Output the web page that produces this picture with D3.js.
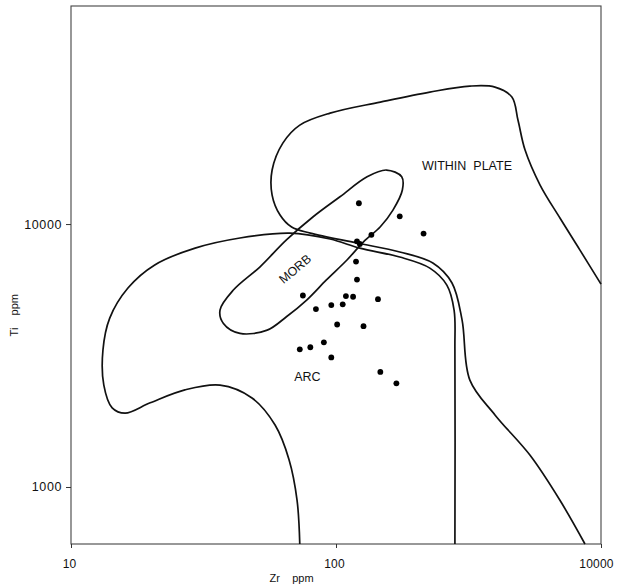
<!DOCTYPE html>
<html>
<head>
<meta charset="utf-8">
<script src="https://cdn.jsdelivr.net/npm/d3@7"></script>
<style>
  body { margin: 0; background: #fff; }
  svg text { font-family: "Liberation Sans", Arial, sans-serif; fill: #111; }
  .field { fill: none; stroke: #111; stroke-width: 1.7; }
</style>
</head>
<body>
<div id="ti_zr_graphic"></div>
<script>
//Global Variables
var full_width = 617
var full_height = 584
var margin = {top: 6, right: 16, bottom: 40, left: 71};
var width = full_width - margin.left - margin.right;
var height = full_height - margin.top - margin.bottom;

// axis ticks (the original figure prints 10000 on the 1000 tick)
var xTickValues = [10, 100, 1000];
var xTickLabels = ["10", "100", "10000"];
var yTickValues = [1000, 10000];
var yTickLabels = ["1000", "10000"];

// samples, Zr and Ti in ppm
var sampleZr = [122, 174, 214, 136, 120, 123, 119, 120, 75, 109, 116, 144, 96, 106, 84, 101, 127, 90, 73, 80, 96, 147, 169];
var sampleTi = [12000, 10700, 9200, 9100, 8600, 8400, 7200, 6150, 5350, 5320, 5290, 5180, 4920, 4950, 4750, 4150, 4090, 3550, 3340, 3400, 3110, 2740, 2480];

// field boundaries, [Zr, Ti] pairs
var morbField = [[155, 16050], [177, 15130], [178, 13470], [164, 11300], [147, 9770], [127, 8560],
                 [110, 7300], [92, 6130], [77.5, 5140], [65, 4440], [55, 3950], [43.4, 3840],
                 [37.6, 4190], [36.5, 4710], [41, 5610], [51.7, 6880], [65, 8700], [82, 10660],
                 [103.5, 12700], [131, 15130]];

var withinPlateField = [[1000, 5910], [833, 7960], [700, 10540], [589, 14070], [517, 19110],
                        [486, 24860], [461, 30400], [398, 33180], [320, 33470], [226, 31760],
                        [147, 29100], [95, 26420], [73, 23790], [63, 20320], [57.4, 16050],
                        [57.4, 12890], [61.5, 10820], [68, 9740], [80, 9240], [120, 8470],
                        [174, 7830], [232, 7110], [274, 5970], [299, 4320], [320, 2550],
                        [398, 1880], [540, 1320], [700, 890], [870, 607]];

var arcField = [[73, 607], [71.3, 890], [66.5, 1270], [58.9, 1720], [48.2, 2180], [36.5, 2440],
                [26.9, 2340], [19.9, 2090], [16, 1910], [14.3, 2000], [13.3, 2440], [13.2, 3320],
                [14, 4390], [16.4, 5710], [20.7, 6990], [29.4, 8100], [43.4, 8850], [67, 9240],
                [95, 8770], [123, 8100], [174, 7490], [226, 6800], [262, 5860], [279, 4710],
                [281, 3320], [281, 607]];

var fieldLabels = ["WITHIN  PLATE", "MORB", "ARC"];
var fieldLabelPos = [[312, 16700], [70, 6750], [78, 2620]];
var fieldLabelAngle = [0, -40, 0];


function getScales(){

    var x = d3.scaleLog()
              .domain([10, 1000])
              .range([0, width]);

    var y = d3.scaleLog()
              .domain([607, 67500])
              .range([height, 0]);

    return [x, y];
}


function createTiZrChart(){

    var svg = d3.select("#ti_zr_graphic")
                .append("svg")
                .attr("width", full_width)
                .attr("height", full_height)
                .append("g")
                .attr("transform", "translate(" + margin.left + "," + margin.top + ")");

    var scales = getScales();
    var x = scales[0]
    var y = scales[1]

    // plot frame
    svg.append("rect")
       .attr("width", width)
       .attr("height", height)
       .attr("fill", "none")
       .attr("stroke", "#444")
       .attr("stroke-width", 1.1);

    var openLine = d3.line()
                     .x(function(d){ return x(d[0]) })
                     .y(function(d){ return y(d[1]) })
                     .curve(d3.curveCatmullRom.alpha(0.5));

    var closedLine = d3.line()
                       .x(function(d){ return x(d[0]) })
                       .y(function(d){ return y(d[1]) })
                       .curve(d3.curveCatmullRomClosed.alpha(0.5));

    svg.append("g")
       .attr("class", "fields")
       .selectAll("path")
       .data([withinPlateField, arcField])
       .enter()
       .append("path")
       .attr("class", "field")
       .attr("d", openLine);

    svg.append("path")
       .datum(morbField)
       .attr("class", "field")
       .attr("d", closedLine);

    svg.append("g")
       .attr("class", "field-labels")
       .selectAll("text")
       .data(fieldLabels)
       .enter()
       .append("text")
       .attr("transform", function(d, i){
            return "translate(" + x(fieldLabelPos[i][0]) + "," + y(fieldLabelPos[i][1]) + ") rotate(" + fieldLabelAngle[i] + ")";
       })
       .attr("text-anchor", "middle")
       .attr("dy", "0.35em")
       .style("white-space", "pre")
       .style("font-size", "12.5px")
       .text(function(d){ return d });

    // samples
    svg.append("g")
       .attr("class", "samples")
       .selectAll("circle")
       .data(sampleZr)
       .enter()
       .append("circle")
       .attr("cx", function(d){ return x(d) })
       .attr("cy", function(d, i){ return y(sampleTi[i]) })
       .attr("r", 2.9)
       .attr("fill", "#000");

    //Add X, Y axes
    var xAxis = svg.append("g")
                   .attr("transform", "translate(0," + height + ")")
                   .call(d3.axisBottom(x)
                           .tickValues(xTickValues)
                           .tickFormat(function(d, i){ return xTickLabels[i] })
                           .tickSize(4)
                           .tickPadding(11));

    var yAxis = svg.append("g")
                   .call(d3.axisLeft(y)
                           .tickValues(yTickValues)
                           .tickFormat(function(d, i){ return yTickLabels[i] })
                           .tickSize(5)
                           .tickPadding(4));

    [xAxis, yAxis].forEach(function(a){
        a.select(".domain").remove();
        a.selectAll("line").attr("stroke", "#333");
        a.selectAll("text")
         .style("font-family", "'Liberation Sans', Arial, sans-serif")
         .style("font-size", "12.5px")
         .style("letter-spacing", "0.6px")
         .attr("fill", "#111");
    });

    // x labels are a bit smaller, and the last one must stay inside the page
    xAxis.selectAll("text")
         .style("font-size", "12px")
         .style("letter-spacing", "0.2px")
         .attr("dx", function(d, i){ return i == xTickValues.length - 1 ? -5 : -2 });

    svg.append("text")
       .attr("x", x(68))
       .attr("y", height + 38)
       .attr("text-anchor", "middle")
       .style("white-space", "pre")
       .style("font-size", "11px")
       .text("Zr    ppm");

    svg.append("text")
       .attr("transform", "translate(" + (18 - margin.left) + "," + y(4500) + ") rotate(-90)")
       .attr("text-anchor", "middle")
       .style("white-space", "pre")
       .style("font-size", "11px")
       .text("Ti    ppm");
}

createTiZrChart();
</script>
</body>
</html>
